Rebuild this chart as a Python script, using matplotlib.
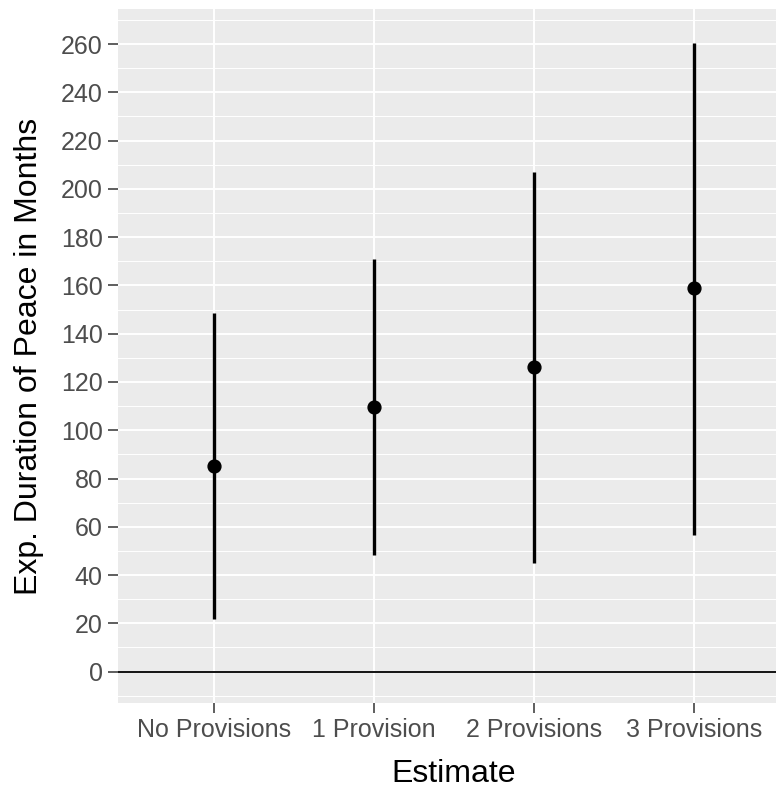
import matplotlib
matplotlib.use("Agg")
import matplotlib.pyplot as plt

categories = ["No Provisions", "1 Provision", "2 Provisions", "3 Provisions"]
estimate = [85.2, 109.7, 126.2, 158.8]
lower = [22.0, 48.5, 44.8, 56.8]
upper = [148.4, 170.8, 207.0, 260.5]
yticks = list(range(0, 261, 20))

plt.rcParams['font.family'] = ['Liberation Sans', 'DejaVu Sans']

fig = plt.figure(figsize=(7.76, 7.89), dpi=100)
ax = fig.add_axes([118 / 776, 86 / 789, 672 / 776, 694 / 789])
ax.set_facecolor('#EBEBEB')

xs = list(range(1, len(categories) + 1))
ax.axhline(0, color='black', lw=1.3, zorder=2)
ax.vlines(xs, lower, upper, color='black', lw=2.4, zorder=3)
ax.scatter(xs, estimate, s=85, color='black', zorder=4)

ax.set_xlim(0.4, 4.6)
ax.set_ylim(-13, 274.5)
ax.set_xticks(xs)
ax.set_xticklabels(categories)
ax.set_yticks(yticks)
ax.set_yticks([v + 10 for v in range(-20, 270, 20)], minor=True)

ax.grid(True, which='major', color='white', lw=1.4, zorder=0)
ax.grid(True, which='minor', axis='y', color='white', lw=0.7, zorder=0)
ax.set_axisbelow(True)
for s in ax.spines.values():
    s.set_visible(False)

ax.tick_params(which='major', length=7, width=1.1, color='#333333',
               labelsize=18, labelcolor='#4D4D4D', pad=4)
ax.tick_params(which='minor', length=0)

ax.set_xlabel('Estimate', fontsize=23, labelpad=12)
ax.set_ylabel('Exp. Duration of Peace in Months', fontsize=23, labelpad=12)

fig.savefig('out.png', dpi=100)
